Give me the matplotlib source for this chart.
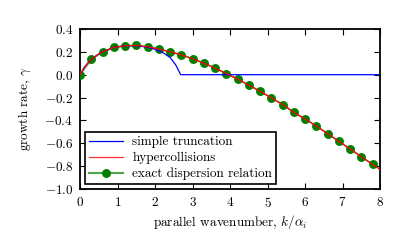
import numpy as np
import matplotlib
matplotlib.use('Agg')
import matplotlib.pyplot as plt
from matplotlib.lines import Line2D

# exact dispersion relation
k_exact = [0.0, 0.3, 0.6, 0.9, 1.2, 1.5, 1.8, 2.1, 2.4, 2.7, 3.0, 3.3, 3.6,
           3.9, 4.2, 4.5, 4.8, 5.1, 5.4, 5.7, 6.0, 6.3, 6.6, 6.9, 7.2, 7.5, 7.8]
g_exact = [0.0, 0.133, 0.200, 0.239, 0.253, 0.256, 0.244, 0.224, 0.200, 0.174,
           0.139, 0.101, 0.057, 0.010, -0.039, -0.092, -0.145, -0.203, -0.261,
           -0.329, -0.388, -0.449, -0.516, -0.583, -0.650, -0.718, -0.785]

# hypercollisions curve
k_hyper = [0.0, 0.1, 0.2, 0.3, 0.45, 0.6, 0.9, 1.2, 1.5, 1.8, 2.1, 2.4, 2.7, 3.0,
           3.3, 3.6, 3.9, 4.2, 4.5, 4.8, 5.1, 5.4, 5.7, 6.0, 6.3, 6.6, 6.9,
           7.2, 7.5, 7.8, 8.0]
g_hyper = [0.0, 0.060, 0.100, 0.133, 0.172, 0.200, 0.239, 0.253, 0.256, 0.244,
           0.224, 0.200, 0.174, 0.139, 0.101, 0.057, 0.010, -0.039, -0.092,
           -0.145, -0.203, -0.261, -0.329, -0.388, -0.449, -0.516, -0.583,
           -0.650, -0.718, -0.785, -0.830]

# simple truncation curve
k_trunc = [0.0, 0.1, 0.2, 0.3, 0.45, 0.6, 0.9, 1.2, 1.5, 1.8, 2.0, 2.2, 2.4,
           2.55, 2.68, 8.0]
g_trunc = [0.0, 0.060, 0.100, 0.133, 0.172, 0.200, 0.239, 0.253, 0.254, 0.240,
           0.222, 0.195, 0.150, 0.085, 0.0, 0.0]

plt.rcParams['font.family'] = 'serif'
plt.rcParams['font.serif'] = ['cmr10', 'DejaVu Serif']
plt.rcParams['mathtext.fontset'] = 'cm'
plt.rcParams['axes.formatter.use_mathtext'] = True
fs = 9.5

fig = plt.figure(figsize=(4.07, 2.52), dpi=100)
ax = fig.add_axes([0.197, 0.25, 0.737, 0.635])

ax.plot(k_exact, g_exact, '-', color='g', alpha=0.6, lw=1.2)
ax.plot(k_exact, g_exact, 'o', color='g', mec='g', ms=5.4, zorder=3)
ax.plot(k_trunc, g_trunc, color='b', lw=0.9, zorder=4)
ax.plot(k_hyper, g_hyper, color='r', lw=0.9, zorder=5)

handles = [Line2D([], [], color='b', lw=0.9),
           Line2D([], [], color='r', lw=0.9, alpha=0.8),
           Line2D([], [], color=(0.3, 0.65, 0.3), lw=1.5, marker='o', ms=5.4,
                  mfc='g', mec='g')]
leg = ax.legend(handles, ['simple truncation', 'hypercollisions',
                          'exact dispersion relation'],
                loc='lower left', fancybox=False, framealpha=1, fontsize=fs,
                borderaxespad=0.35, handlelength=2.6, labelspacing=0.28,
                borderpad=0.3, handletextpad=0.7)
leg.get_frame().set_edgecolor('k')
leg.get_frame().set_linewidth(1.2)

ax.set_xlim(0, 8)
ax.set_ylim(-1.0, 0.4)
ax.set_xticks(np.arange(0, 9, 1))
ax.set_yticks([-1.0, -0.8, -0.6, -0.4, -0.2, 0.0, 0.2, 0.4])
ax.set_yticklabels(['$-1.0$', '$-0.8$', '$-0.6$', '$-0.4$', '$-0.2$',
                    '$0.0$', '$0.2$', '$0.4$'])
ax.set_xticklabels(['$%d$' % i for i in range(9)])
ax.tick_params(direction='in', top=True, right=True, length=4, width=0.8,
               labelsize=fs, pad=5)
for s in ax.spines.values():
    s.set_linewidth(1.3)

ax.set_xlabel(r'parallel wavenumber, $k/\alpha_i$', fontsize=fs, labelpad=2)
ax.set_ylabel(r'growth rate, $\gamma$', fontsize=fs, labelpad=8)

fig.savefig('out.png', dpi=100)
